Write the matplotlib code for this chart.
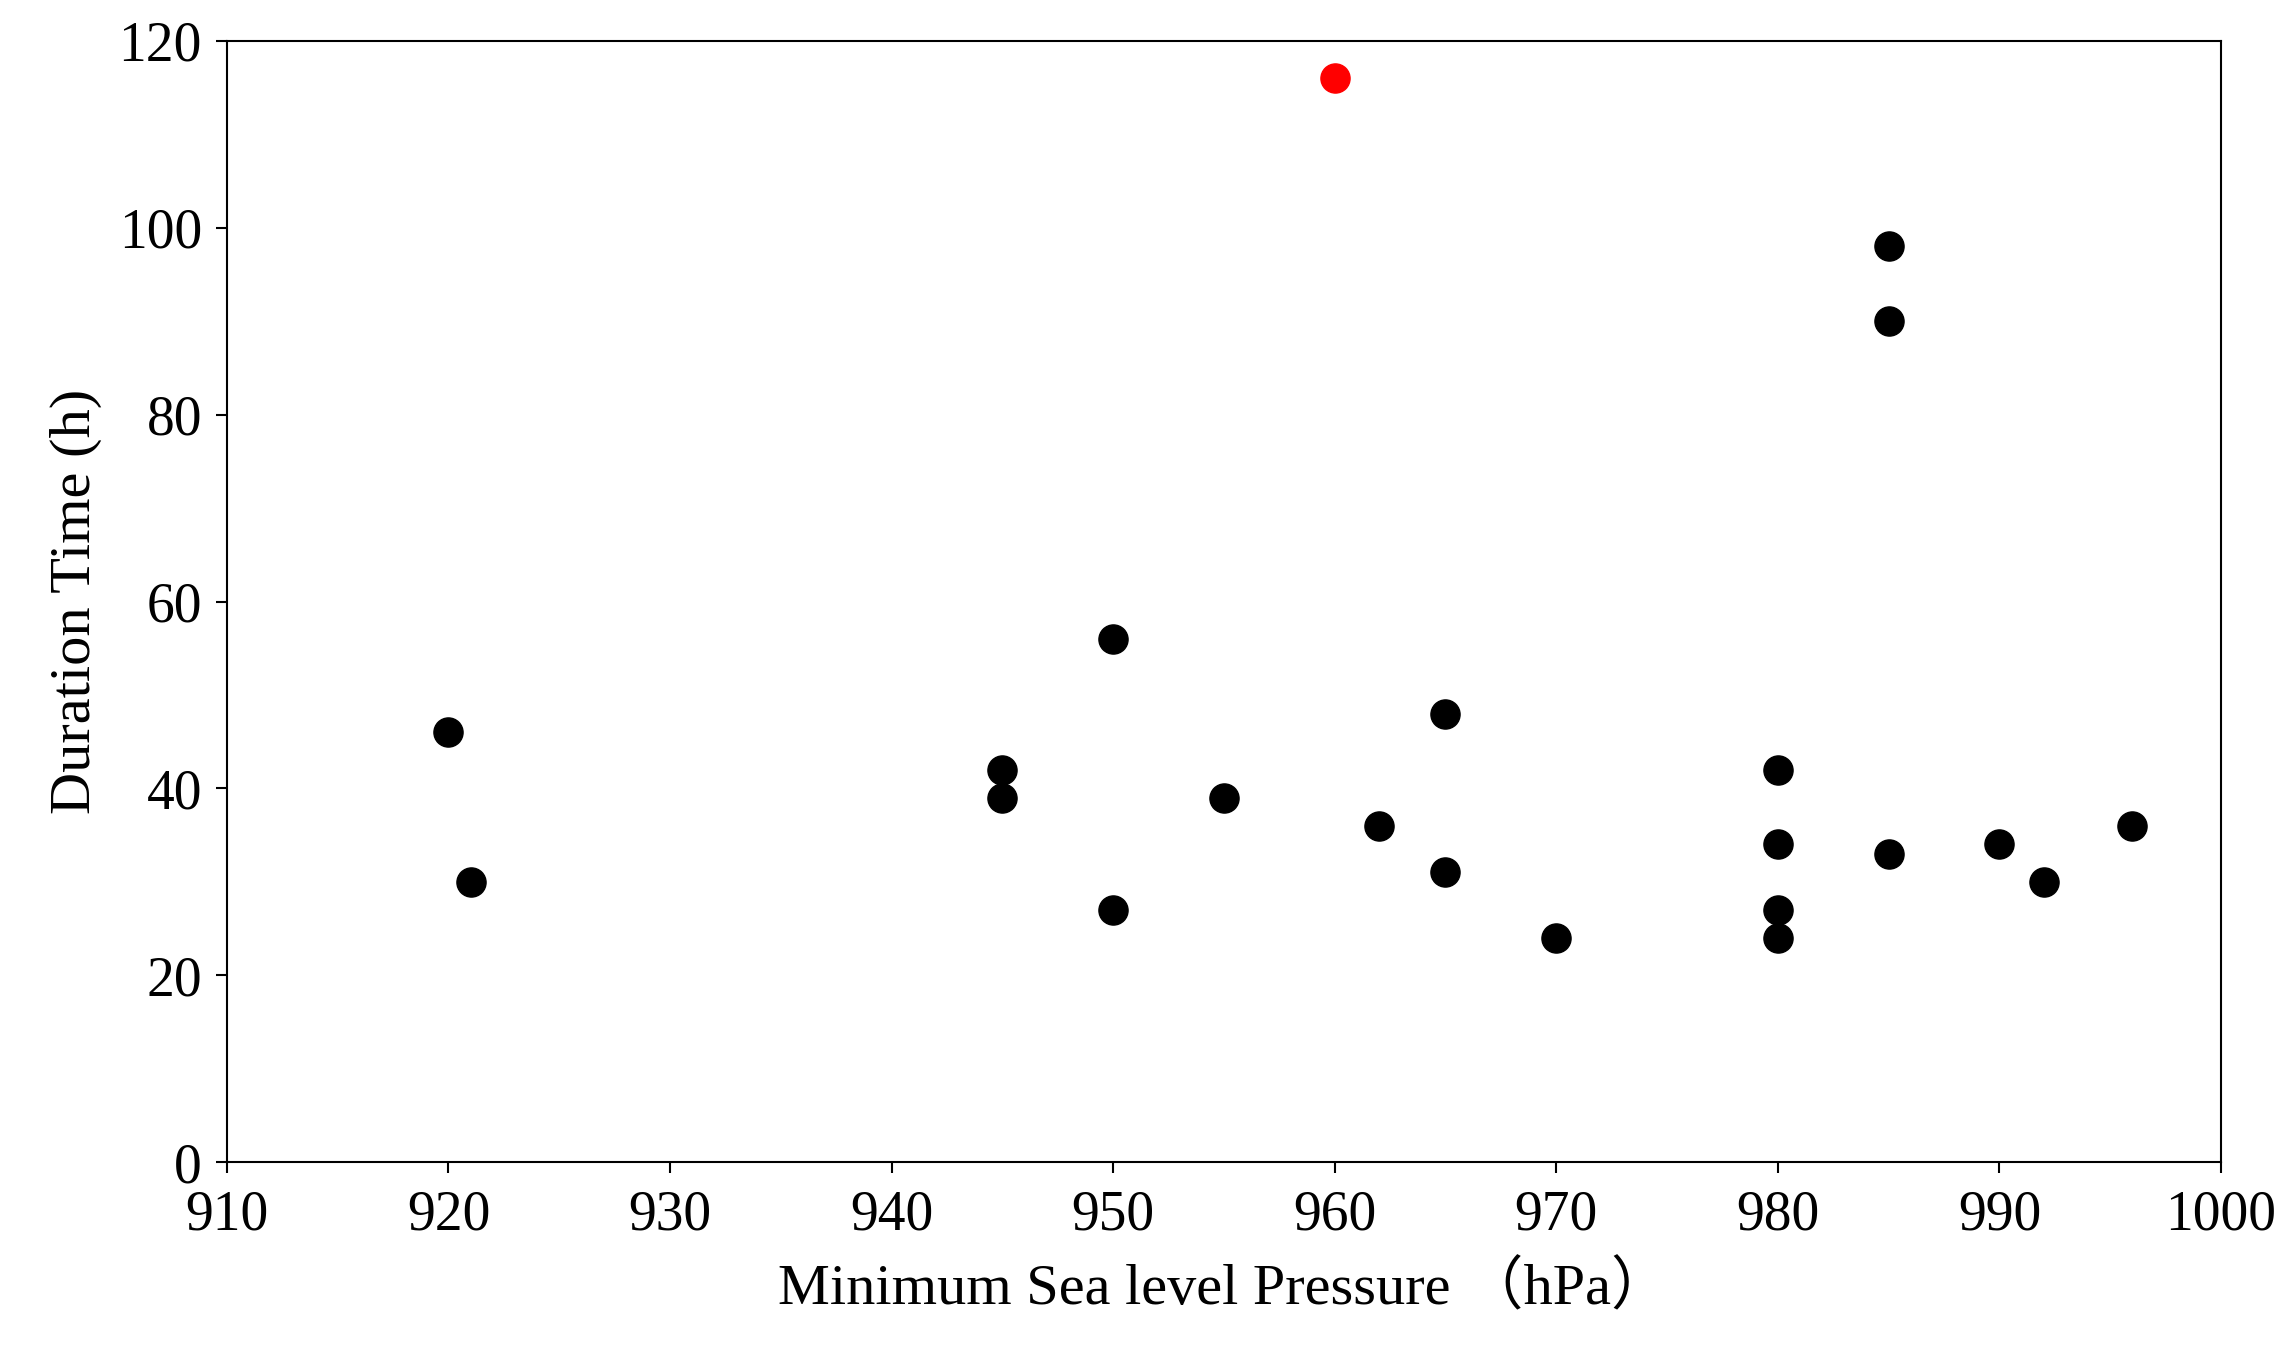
import matplotlib
matplotlib.use("Agg")
import matplotlib.pyplot as plt

# minimum sea level pressure (hPa) vs duration time (h)
pressure = [920, 921, 945, 945, 950, 950, 955, 962, 965, 965, 970,
            980, 980, 980, 980, 985, 985, 985, 990, 992, 996]
duration = [46, 30, 42, 39, 56, 27, 39, 36, 48, 31, 24,
            42, 34, 27, 24, 98, 90, 33, 34, 30, 36]
# highlighted case
red_pressure = [960]
red_duration = [116]

plt.rcParams['font.family'] = ['Liberation Serif', 'Noto Sans CJK SC']

fig = plt.figure(figsize=(22.92, 13.64), dpi=100)
ax = fig.add_axes([0.099, 0.148, 0.870, 0.822])
ax.scatter(pressure, duration, s=440, color='black', zorder=3)
ax.scatter(red_pressure, red_duration, s=440, color='#ff0000', zorder=3)

ax.set_xlim(910, 1000)
ax.set_ylim(0, 120)
ax.set_xticks(range(910, 1001, 10))
ax.set_yticks(range(0, 121, 20))
ax.tick_params(labelsize=40, length=8, width=1.5, direction='out')
ax.tick_params(axis='x', pad=12)
ax.tick_params(axis='y', pad=10)
for s in ax.spines.values():
    s.set_linewidth(1.5)

ax.set_xlabel('Minimum Sea level Pressure （hPa）', fontsize=42, labelpad=14)
ax.set_ylabel('Duration Time (h)', fontsize=42, labelpad=12)

fig.savefig('out.png', dpi=100)
